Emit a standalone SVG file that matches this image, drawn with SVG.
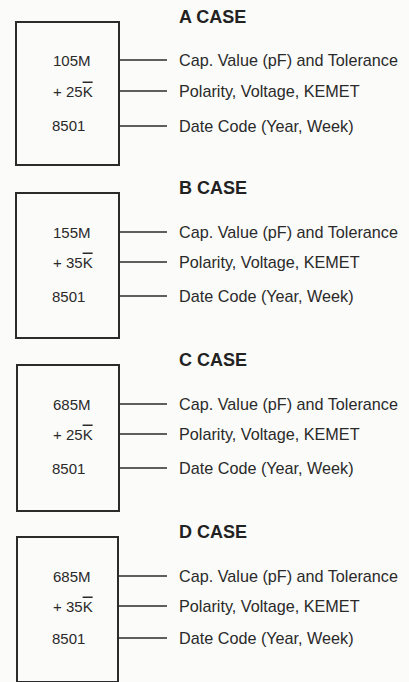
<svg xmlns="http://www.w3.org/2000/svg" width="409" height="682" viewBox="0 0 409 682">
<style>
.bg{fill:#fbfbf9}
.box{fill:none;stroke:#2b2b2b;stroke-width:2}
.title{font-family:"Liberation Sans",Arial,sans-serif;font-weight:bold;font-size:18px;fill:#222}
.mark{font-family:"Liberation Sans",Arial,sans-serif;font-size:15px;fill:#2a2a2a}
.lbl{font-family:"Liberation Sans",Arial,sans-serif;font-size:16.2px;fill:#2a2a2a}
.conn line{stroke:#2b2b2b;stroke-width:1.5}
.k{text-decoration:overline}
</style>
<rect class="bg" x="0" y="0" width="409" height="682"/>
<g id="caseA">
<text class="title" x="179" y="22.5">A CASE</text>
<rect class="box" x="16" y="22" width="103" height="143"/>
<text class="mark" x="53" y="65.5">105M</text>
<text class="mark" x="53" y="96.5">+ 25<tspan class="k">K</tspan></text>
<text class="mark" x="52" y="131">8501</text>
<text class="lbl" x="179" y="66">Cap. Value (pF) and Tolerance</text>
<text class="lbl" x="179" y="97">Polarity, Voltage, KEMET</text>
<text class="lbl" x="179" y="131.5">Date Code (Year, Week)</text>
</g>
<g id="caseB">
<text class="title" x="179" y="194">B CASE</text>
<rect class="box" x="16" y="193" width="103" height="145"/>
<text class="mark" x="53" y="237.5">155M</text>
<text class="mark" x="53" y="267.5">+ 35<tspan class="k">K</tspan></text>
<text class="mark" x="52" y="301.5">8501</text>
<text class="lbl" x="179" y="238">Cap. Value (pF) and Tolerance</text>
<text class="lbl" x="179" y="268">Polarity, Voltage, KEMET</text>
<text class="lbl" x="179" y="302">Date Code (Year, Week)</text>
</g>
<g id="caseC">
<text class="title" x="179" y="365.5">C CASE</text>
<rect class="box" x="17" y="365" width="102" height="146"/>
<text class="mark" x="53" y="409.5">685M</text>
<text class="mark" x="53" y="439.5">+ 25<tspan class="k">K</tspan></text>
<text class="mark" x="52" y="473.5">8501</text>
<text class="lbl" x="179" y="410">Cap. Value (pF) and Tolerance</text>
<text class="lbl" x="179" y="440">Polarity, Voltage, KEMET</text>
<text class="lbl" x="179" y="474">Date Code (Year, Week)</text>
</g>
<g id="caseD">
<text class="title" x="179" y="538">D CASE</text>
<rect class="box" x="17" y="537" width="101" height="145"/>
<text class="mark" x="53" y="581.5">685M</text>
<text class="mark" x="53" y="611.5">+ 35<tspan class="k">K</tspan></text>
<text class="mark" x="52" y="643.5">8501</text>
<text class="lbl" x="179" y="582">Cap. Value (pF) and Tolerance</text>
<text class="lbl" x="179" y="612">Polarity, Voltage, KEMET</text>
<text class="lbl" x="179" y="644">Date Code (Year, Week)</text>
</g>
<g id="connectors" class="conn">
<line x1="119" y1="60" x2="167" y2="60"/>
<line x1="119" y1="91" x2="167" y2="91"/>
<line x1="119" y1="126" x2="167" y2="126"/>
<line x1="119" y1="232" x2="167" y2="232"/>
<line x1="119" y1="262" x2="167" y2="262"/>
<line x1="119" y1="296" x2="167" y2="296"/>
<line x1="119" y1="404" x2="167" y2="404"/>
<line x1="119" y1="434" x2="167" y2="434"/>
<line x1="119" y1="468" x2="167" y2="468"/>
<line x1="118" y1="576" x2="167" y2="576"/>
<line x1="118" y1="606" x2="167" y2="606"/>
<line x1="118" y1="638" x2="167" y2="638"/>
</g>
</svg>
